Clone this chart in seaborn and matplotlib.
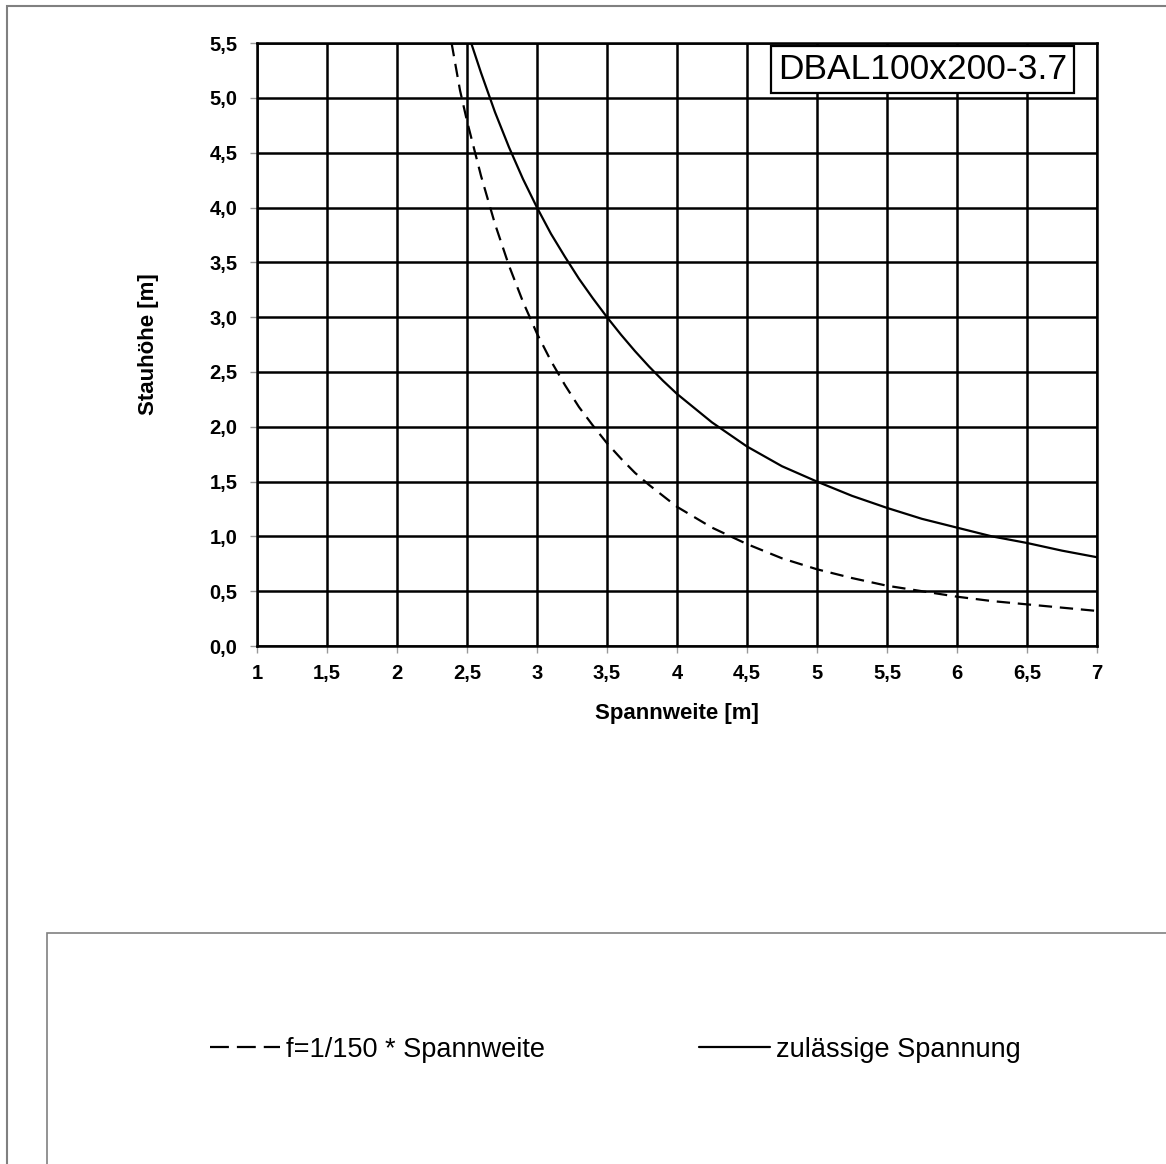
import numpy as np
import pandas as pd
import seaborn as sns
import matplotlib.pyplot as plt
from matplotlib.patches import Rectangle

# Data
span_solid = [2.53, 2.6, 2.7, 2.8, 2.9, 3.0, 3.1, 3.2, 3.3, 3.4, 3.5, 3.6, 3.7, 3.8, 3.9,
              4.0, 4.25, 4.5, 4.75, 5.0, 5.25, 5.5, 5.75, 6.0, 6.25, 6.5, 6.75, 7.0]
stress = [5.5, 5.23, 4.87, 4.55, 4.26, 4.0, 3.76, 3.55, 3.35, 3.17, 3.0, 2.84, 2.69, 2.55, 2.42,
          2.30, 2.04, 1.82, 1.64, 1.50, 1.37, 1.26, 1.16, 1.08, 1.00, 0.94, 0.87, 0.81]

span_dashed = [2.39, 2.45, 2.5, 2.6, 2.7, 2.8, 2.9, 3.0, 3.1, 3.2, 3.3, 3.4, 3.5, 3.6, 3.7, 3.8, 3.9,
               4.0, 4.25, 4.5, 4.75, 5.0, 5.25, 5.5, 5.75, 6.0, 6.25, 6.5, 6.75, 7.0]
deflection = [5.5, 5.07, 4.79, 4.29, 3.85, 3.47, 3.14, 2.85, 2.60, 2.38, 2.18, 2.01, 1.85, 1.71, 1.58,
              1.47, 1.37, 1.27, 1.08, 0.93, 0.80, 0.70, 0.62, 0.55, 0.50, 0.45, 0.41, 0.38, 0.35, 0.32]

xticks = [1, 1.5, 2, 2.5, 3, 3.5, 4, 4.5, 5, 5.5, 6, 6.5, 7]
xticklabels = ["1", "1,5", "2", "2,5", "3", "3,5", "4", "4,5", "5", "5,5", "6", "6,5", "7"]
yticks = [0, 0.5, 1, 1.5, 2, 2.5, 3, 3.5, 4, 4.5, 5, 5.5]
yticklabels = ["0,0", "0,5", "1,0", "1,5", "2,0", "2,5", "3,0", "3,5", "4,0", "4,5", "5,0", "5,5"]

label_dashed = "f=1/150 * Spannweite"
label_solid = "zulässige Spannung"

sns.set_style("white")
plt.rcParams['font.family'] = ['Liberation Sans', 'DejaVu Sans']
plt.rcParams['text.color'] = 'black'
plt.rcParams['axes.labelcolor'] = 'black'

fig = plt.figure(figsize=(11.66, 11.64), dpi=100)
ax = fig.add_axes([0.2204, 0.445, 0.7204, 0.518])

df_d = pd.DataFrame({"x": span_dashed, "y": deflection})
df_s = pd.DataFrame({"x": span_solid, "y": stress})

sns.lineplot(data=df_d, x="x", y="y", ax=ax, color="black", lw=1.6,
             label=label_dashed, estimator=None, sort=False)
ax.lines[-1].set_dashes([6, 3.5])
sns.lineplot(data=df_s, x="x", y="y", ax=ax, color="black", lw=1.6,
             label=label_solid, estimator=None, sort=False)

ax.set_xlim(1, 7)
ax.set_ylim(0, 5.5)
ax.set_xticks(xticks)
ax.set_xticklabels(xticklabels, fontsize=14.5, fontweight="bold", va="baseline")
ax.set_yticks(yticks)
ax.set_yticklabels(yticklabels, fontsize=14.5, fontweight="bold")
ax.tick_params(axis="both", direction="out", length=5, width=1, color="#999999",
               labelcolor="black", bottom=True, left=True)
ax.tick_params(axis="x", pad=18.5)
ax.tick_params(axis="y", pad=9)
ax.grid(True, color="black", lw=1.8)
for s in ax.spines.values():
    s.set_color("black")
    s.set_linewidth(1.8)

ax.set_xlabel("Spannweite [m]", fontsize=16, fontweight="bold")
ax.set_ylabel("Stauhöhe [m]", fontsize=16, fontweight="bold")
ax.xaxis.set_label_coords(0.5, -0.095)
ax.yaxis.set_label_coords(-0.117, 0.5)

ax.text(0.9645, 0.984, "DBAL100x200-3.7", transform=ax.transAxes, ha="right", va="top",
        fontsize=25.5,
        bbox=dict(boxstyle="square,pad=0.2", fc="white", ec="black", lw=1.6))

# legend moved to a separate box below the plot
handles, labels = ax.get_legend_handles_labels()
ax.get_legend().remove()
leg = fig.legend(handles, labels, loc="center", bbox_to_anchor=(0.5274, 0.098), ncol=2,
                 frameon=False, fontsize=19.5, handlelength=2.6, handletextpad=0.22,
                 columnspacing=5.7)
leg.get_lines()[0].set_dashes([8.5, 3.6])

fig.patches.append(Rectangle((47 / 1166, -0.01), 1.0, (1164 - 933) / 1164 + 0.01,
                             transform=fig.transFigure, fill=False, ec="#808080", lw=1.2))
fig.patches.append(Rectangle((7 / 1166, -0.01), 1.0, (1164 - 6) / 1164 + 0.01,
                             transform=fig.transFigure, fill=False, ec="#808080", lw=1.5))

fig.savefig("out.png", dpi=100)
